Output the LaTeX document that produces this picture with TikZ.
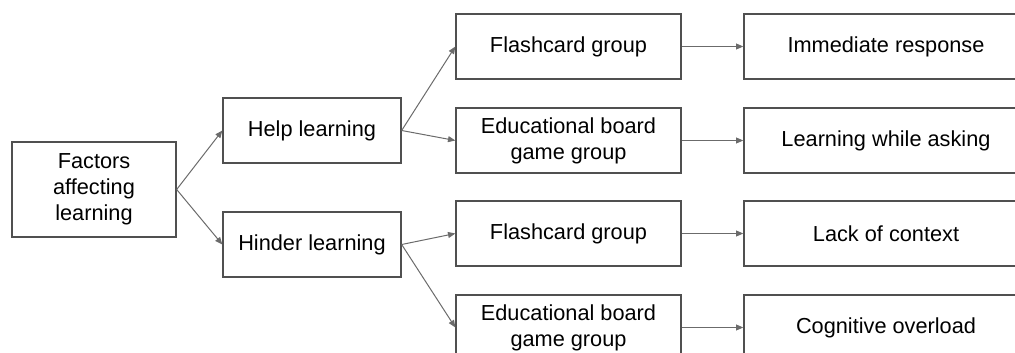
\documentclass[tikz,border=0pt]{standalone}
\usepackage{fontspec}
\setmainfont{Liberation Sans}
\usetikzlibrary{arrows.meta}
\definecolor{boxline}{HTML}{505050}
\definecolor{arrline}{HTML}{6B6B6B}
\tikzset{
  box/.style={draw=boxline, line width=1pt, inner sep=0pt, align=center,
    font=\fontsize{16.3}{19.5}\selectfont},
  rootbox/.style={box, minimum width=123pt, minimum height=71.25pt},
  midbox/.style={box, minimum width=133.5pt, minimum height=48.75pt},
  groupbox/.style={box, minimum width=168.75pt, minimum height=48.75pt},
  endbox/.style={box, minimum width=213pt, minimum height=48.75pt},
  link/.style={draw=arrline, line width=0.75pt, -{Triangle[length=5.5pt,width=4.5pt]}}
}
\begin{document}
\begin{tikzpicture}[x=0.75pt,y=-0.75pt]
\clip (0,0) rectangle (1015,353);
\node[rootbox] (factors) at (94,189.5) {Factors\\affecting\\learning};
\node[midbox] (help) at (312,130.5) {Help learning};
\node[midbox] (hinder) at (312,244.5) {Hinder learning};
\node[groupbox] (helpcard) at (568.5,46.5) {Flashcard group};
\node[groupbox] (helpgame) at (568.5,140.5) {Educational board\\game group};
\node[groupbox] (hindercard) at (568.5,233.5) {Flashcard group};
\node[groupbox] (hindergame) at (568.5,327.5) {Educational board\\game group};
\node[endbox] (immediate) at (886,46.5) {Immediate response};
\node[endbox] (asking) at (886,140.5) {Learning while asking};
\node[endbox] (context) at (886,233.5) {Lack of context};
\node[endbox] (overload) at (886,327.5) {Cognitive overload};
\draw[link] (factors.east) -- (help.west);
\draw[link] (factors.east) -- (hinder.west);
\draw[link] (help.east) -- (helpcard.west);
\draw[link] (help.east) -- (helpgame.west);
\draw[link] (hinder.east) -- (hindercard.west);
\draw[link] (hinder.east) -- (hindergame.west);
\draw[link] (helpcard) -- (immediate);
\draw[link] (helpgame) -- (asking);
\draw[link] (hindercard) -- (context);
\draw[link] (hindergame) -- (overload);
\end{tikzpicture}
\end{document}
